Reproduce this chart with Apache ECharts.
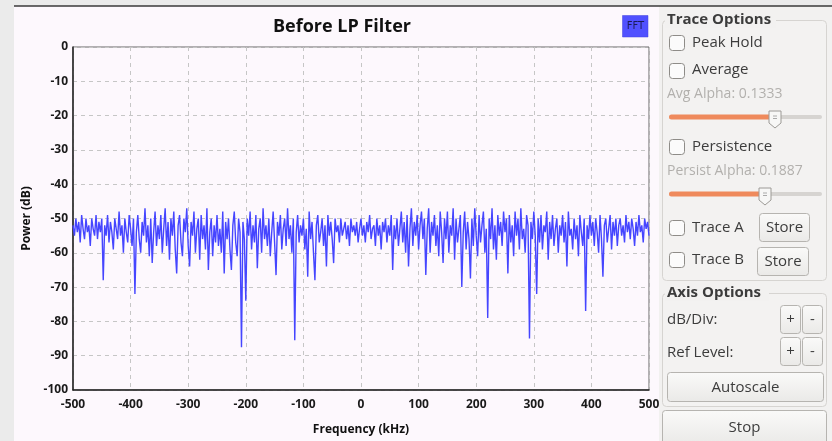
<!DOCTYPE html>
<html>
<head>
<meta charset="utf-8">
<script src="https://cdn.jsdelivr.net/npm/echarts@6/dist/echarts.min.js"></script>
<style>
html,body{margin:0;padding:0;background:#ebebeb;}
#chart{width:832px;height:441px;}
</style>
</head>
<body>
<div id="chart"></div>
<script>
// Frequency bins (kHz): start and spacing of the FFT bins
var freqStart = -500;
var freqStep = 2.5;
var xTicks = [-500, -400, -300, -200, -100, 0, 100, 200, 300, 400, 500];
var yTicks = [0, -10, -20, -30, -40, -50, -60, -70, -80, -90, -100];

// Power (dB) per bin, 50 kHz per row
var powerDb = [
  -52,-55,-50,-54,-51,-57,-49,-53,-56,-50,-54,-52,-58,-50,-53,-55,-49,-56,-51,-54,
  -50,-68,-52,-55,-49,-57,-51,-54,-59,-50,-53,-56,-48,-55,-52,-60,-50,-54,-57,-49,
  -53,-58,-50,-72,-54,-49,-56,-60,-51,-55,-47,-57,-52,-61,-50,-63,-54,-48,-58,-52,
  -56,-49,-60,-53,-47,-58,-51,-62,-50,-55,-48,-59,-66,-52,-49,-57,-61,-50,-54,-47,
  -58,-64,-51,-55,-48,-60,-53,-50,-62,-49,-56,-52,-59,-47,-65,-54,-50,-61,-52,-57,
  -49,-58,-53,-60,-48,-66,-51,-56,-50,-59,-65,-52,-48,-57,-61,-50,-54,-87.5,-51,-56,
  -74,-50,-55,-48,-59,-52,-57,-49,-64.5,-53,-50,-60,-47,-56,-52,-58,-50,-61,-54,-48,
  -57,-66.5,-51,-55,-49,-59,-53,-50,-58,-47,-56,-52,-60,-50,-85.5,-54,-49,-57,-52,-55,
  -50,-59,-53,-67,-48,-56,-51,-60,-68,-52,-49,-57,-54,-50,-58,-52,-64,-49,-55,-51,
  -56,-63,-50,-54,-52,-57,-50,-55,-53,-51,-56,-52,-58,-50,-54,-52,-55,-51,-57,-53,
  -50,-55,-52,-57,-51,-54,-49,-56,-53,-52,-58,-50,-55,-52,-59,-51,-54,-50,-57,-52,
  -55,-49,-65,-52,-56,-50,-58,-53,-48,-57,-51,-60,-49,-64,-53,-47,-58,-51,-55,-49,
  -59,-52,-48,-56,-50,-66.5,-53,-47,-60,-51,-55,-49,-58,-52,-61,-48,-54,-63,-50,-56,
  -48,-60,-52,-55,-47,-62,-50,-57,-53,-49,-70,-54,-48,-59,-51,-56,-67.5,-50,-58,-47,
  -55,-61,-49,-57,-52,-48,-60,-53,-79,-50,-56,-47,-59,-52,-62,-49,-55,-51,-58,-48,
  -54,-50,-66,-49,-57,-52,-61,-48,-55,-50,-59,-47,-56,-53,-60,-49,-52,-85,-51,-56,
  -48,-55,-72,-50,-57,-49,-59,-52,-54,-48,-62,-51,-56,-49,-58,-53,-50,-60,-52,-55,
  -49,-57,-51,-64,-48,-55,-53,-59,-50,-56,-52,-61,-49,-54,-58,-50,-77,-52,-56,-49,
  -55,-51,-58,-50,-54,-60,-49,-56,-67,-52,-50,-57,-53,-49,-59,-51,-55,-50,-58,-52,
  -50,-55,-52,-57,-49,-54,-51,-56,-50,-53,-58,-51,-55,-49,-54,-52,-57,-50,-53,-51,-55
];

var seriesData = powerDb.map(function (v, i) { return [freqStart + i * freqStep, v]; });

var panelFont = '"Open Sans", "DejaVu Sans", sans-serif';
var textCol = '#3c3c3c';

function checkbox(y) {
  return { type: 'rect', z: 20, shape: { x: 669.5, y: y, width: 15, height: 15, r: 3 },
    style: { fill: '#fbfbfb', stroke: '#8e8c88', lineWidth: 1 } };
}
function label(text, x, y, opts) {
  opts = opts || {};
  return { type: 'text', z: 21, style: { text: text, x: x, y: y,
    font: (opts.bold ? 'bold ' : '') + (opts.size || 15) + 'px ' + panelFont,
    fill: opts.fill || textCol, align: opts.align || 'left', verticalAlign: 'middle' } };
}
function button(x, y, w, h, text, size) {
  return [
    { type: 'rect', z: 20, shape: { x: x, y: y, width: w, height: h, r: 3 },
      style: { fill: new echarts.graphic.LinearGradient(0, 0, 0, 1, [
        { offset: 0, color: '#fafaf9' }, { offset: 1, color: '#eae9e7' }]),
        stroke: '#b6b4b0', lineWidth: 1 } },
    label(text, x + w / 2, y + h / 2 + 0.5, { align: 'center', size: size || 15 })
  ];
}
function slider(y, handleX) {
  return [
    { type: 'rect', z: 20, shape: { x: 669, y: y - 2, width: 153, height: 4, r: 2 },
      style: { fill: '#d6d4d1' } },
    { type: 'rect', z: 20, shape: { x: 669, y: y - 2.5, width: handleX - 669, height: 5, r: 2.5 },
      style: { fill: '#ef8a5c' } },
    { type: 'polygon', z: 21, shape: { points: [[handleX - 6, y - 6], [handleX + 6, y - 6],
      [handleX + 6, y + 6], [handleX, y + 11], [handleX - 6, y + 6]] },
      style: { fill: '#f7f7f6', stroke: '#9c9a96', lineWidth: 1 } },
    { type: 'line', z: 22, shape: { x1: handleX - 2, y1: y - 1, x2: handleX + 2, y2: y - 1 }, style: { stroke: '#aaa' } },
    { type: 'line', z: 22, shape: { x1: handleX - 2, y1: y + 1.5, x2: handleX + 2, y2: y + 1.5 }, style: { stroke: '#aaa' } }
  ];
}

var graphics = [
  // plot widget background
  { type: 'rect', z: -10, silent: true, shape: { x: 14, y: 6, width: 645, height: 435 }, style: { fill: '#fdf8fd' } },
  // right panel background
  { type: 'rect', z: 5, shape: { x: 659, y: 6, width: 173, height: 435 }, style: { fill: '#f2f1f0' } },
  { type: 'line', z: 6, shape: { x1: 14, y1: 6, x2: 832, y2: 6 }, style: { stroke: '#3a3a3a', lineWidth: 1.5 } },
  // FFT badge
  { type: 'rect', z: 10, shape: { x: 622.5, y: 15.5, width: 25.5, height: 21.5 }, style: { fill: '#5151ff', stroke: '#4040dd', lineWidth: 0.5 } },
  { type: 'text', z: 11, style: { text: 'FFT', x: 635.5, y: 26.5, font: '10px "DejaVu Sans"', fill: '#1c1c5a', align: 'center', verticalAlign: 'middle' } },
  // group boxes
  { type: 'rect', z: 10, shape: { x: 662.5, y: 20.5, width: 164, height: 260, r: 4 }, style: { fill: '#f3f2f1', stroke: '#d6d4d1', lineWidth: 1 } },
  { type: 'rect', z: 11, shape: { x: 665, y: 12, width: 111, height: 16 }, style: { fill: '#f2f1f0' } },
  label('Trace Options', 667, 20, { bold: true, size: 15 }),
  { type: 'rect', z: 10, shape: { x: 662.5, y: 293.5, width: 164, height: 113, r: 4 }, style: { fill: '#f3f2f1', stroke: '#d6d4d1', lineWidth: 1 } },
  { type: 'rect', z: 11, shape: { x: 665, y: 285, width: 104, height: 16 }, style: { fill: '#f2f1f0' } },
  label('Axis Options', 667, 293, { bold: true, size: 15 }),
  checkbox(35.5), label('Peak Hold', 692, 42.5),
  checkbox(63.5), label('Average', 692, 70),
  label('Avg Alpha: 0.1333', 667, 94, { fill: '#b2b0ad', size: 14 }),
  checkbox(139.5), label('Persistence', 692, 147),
  label('Persist Alpha: 0.1887', 667, 171, { fill: '#b2b0ad', size: 14 }),
  checkbox(220.5), label('Trace A', 692, 227.5),
  checkbox(252.5), label('Trace B', 692, 260),
  label('dB/Div:', 667, 320),
  label('Ref Level:', 667, 352.5)
];
graphics = graphics
  .concat(slider(117, 775))
  .concat(slider(194, 765))
  .concat(button(759.5, 213.5, 50, 28, 'Store'))
  .concat(button(757.5, 247.5, 51, 28, 'Store'))
  .concat(button(780.5, 305.5, 20, 28, '+'))
  .concat(button(802.5, 305.5, 20, 28, '-'))
  .concat(button(780.5, 337.5, 20, 28, '+'))
  .concat(button(802.5, 337.5, 20, 28, '-'))
  .concat(button(667.5, 372.5, 156, 29, 'Autoscale'))
  .concat(button(662.5, 410.5, 164, 34, 'Stop'));

var axisFont = '"Open Sans", "DejaVu Sans", sans-serif';

var chart = echarts.init(document.getElementById('chart'), null, { renderer: 'canvas' });
chart.setOption({
  animation: false,
  backgroundColor: 'transparent',
  title: {
    text: 'Before LP Filter', left: 337, top: 13, textAlign: 'center',
    textStyle: { fontFamily: axisFont, fontWeight: 'bold', fontSize: 18, color: '#111' }
  },
  grid: { left: 73, right: 183, top: 47, bottom: 49, show: true, borderColor: '#666', borderWidth: 1, backgroundColor: 'transparent' },
  xAxis: {
    type: 'value', min: xTicks[0], max: xTicks[xTicks.length - 1], interval: 100,
    name: 'Frequency (kHz)', nameLocation: 'middle', nameGap: 34,
    nameTextStyle: { fontFamily: axisFont, fontWeight: 'bold', fontSize: 12, color: '#111' },
    axisLine: { show: true, onZero: false, lineStyle: { color: '#222', width: 1.5 } },
    axisTick: { show: false },
    axisLabel: { color: '#1a1a1a', fontFamily: axisFont, fontWeight: 'bold', fontSize: 12, margin: 9 },
    splitLine: { show: true, lineStyle: { color: '#c6c6c6', type: [4, 4], width: 1 } }
  },
  yAxis: {
    type: 'value', min: yTicks[yTicks.length - 1], max: yTicks[0], interval: 10,
    name: 'Power (dB)', nameLocation: 'middle', nameGap: 37,
    nameTextStyle: { fontFamily: axisFont, fontWeight: 'bold', fontSize: 12, color: '#111' },
    axisLine: { show: true, onZero: false, lineStyle: { color: '#222', width: 1.5 } },
    axisTick: { show: false },
    axisLabel: { color: '#1a1a1a', fontFamily: axisFont, fontWeight: 'bold', fontSize: 12, margin: 5 },
    splitLine: { show: true, lineStyle: { color: '#c6c6c6', type: [4, 4], width: 1 } }
  },
  series: [{
    type: 'line', data: seriesData, showSymbol: false, symbol: 'none',
    lineStyle: { color: '#4545ff', width: 1.4 }, z: 3
  }],
  graphic: graphics
});
</script>
</body>
</html>
